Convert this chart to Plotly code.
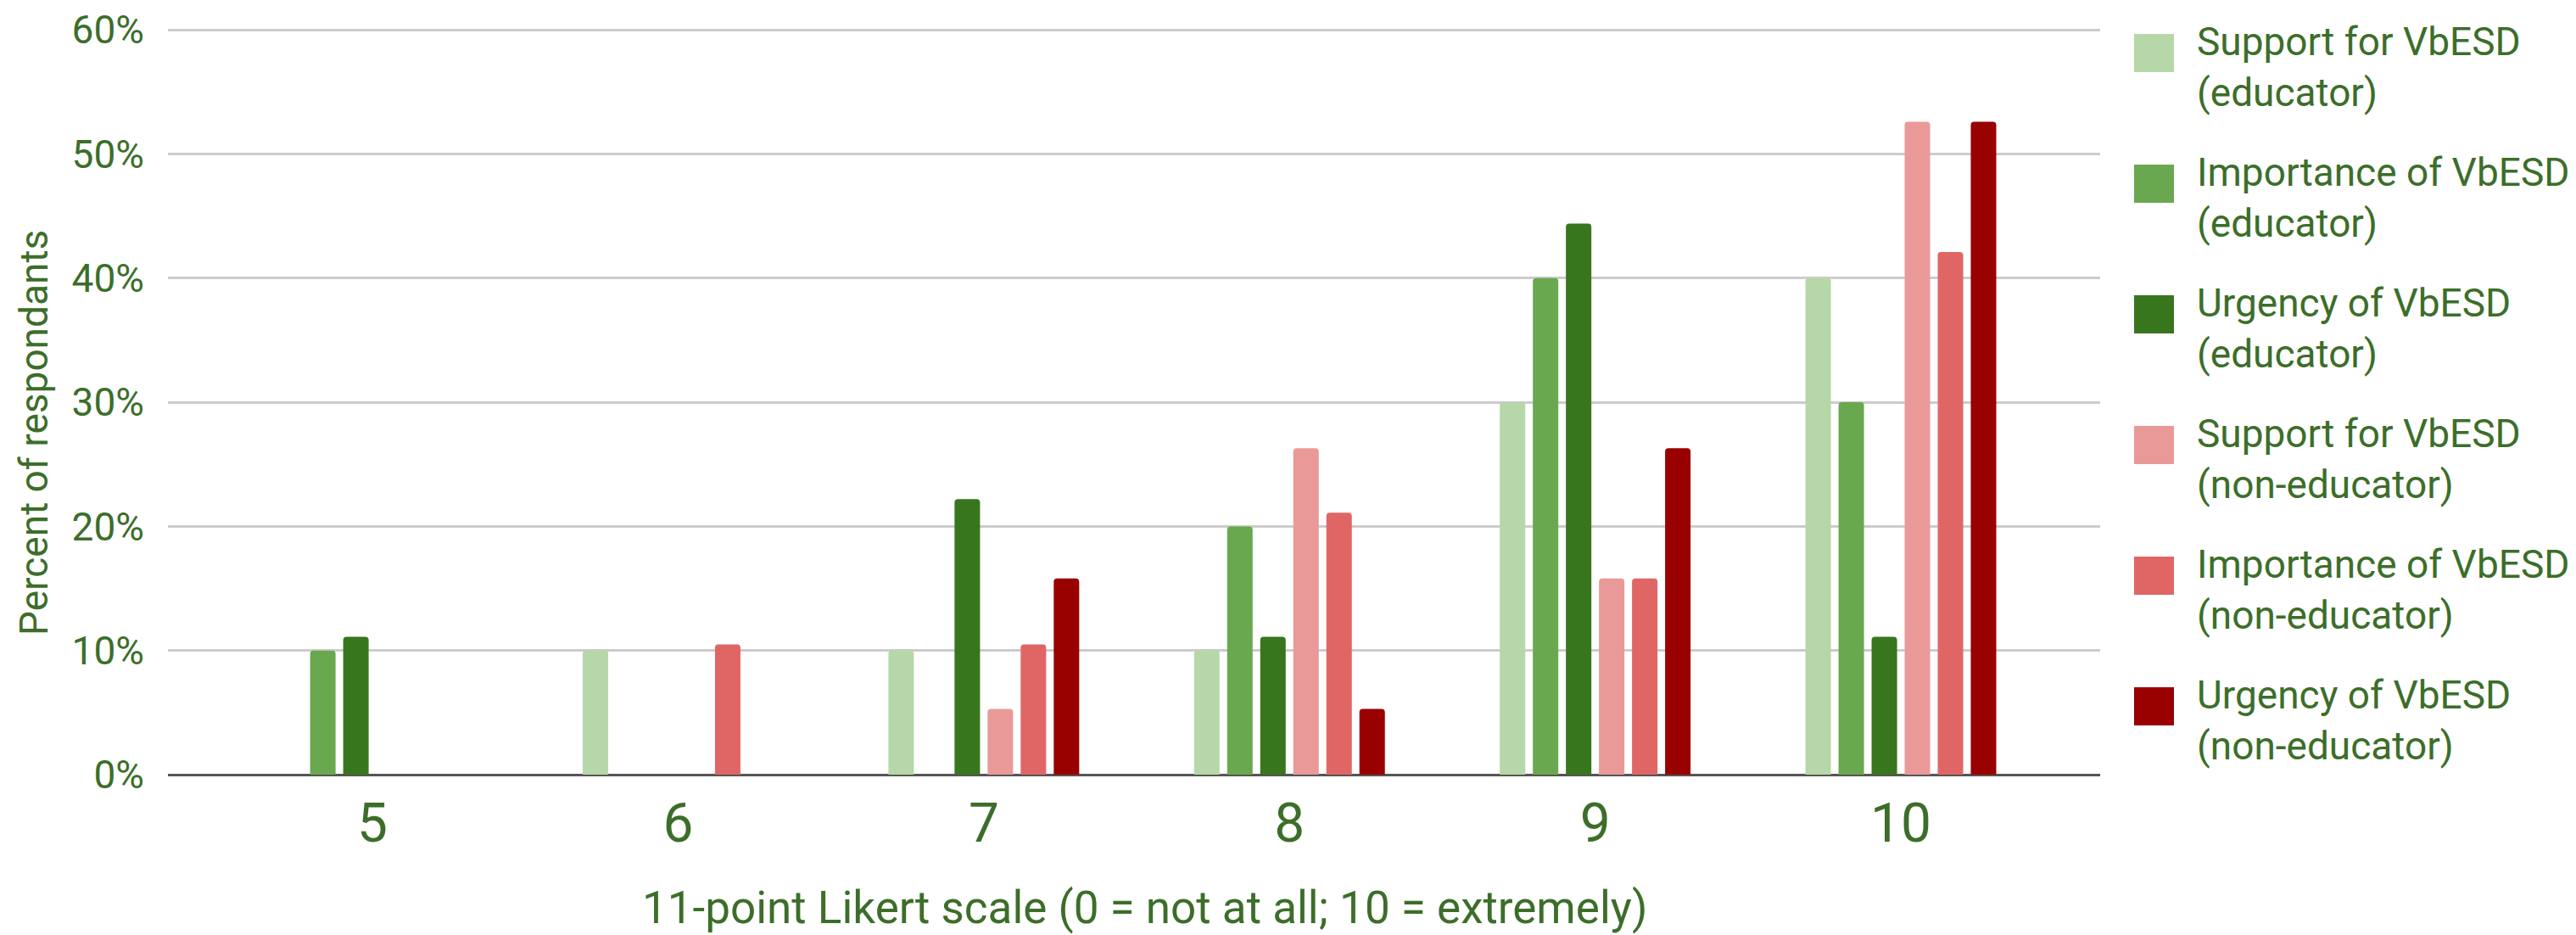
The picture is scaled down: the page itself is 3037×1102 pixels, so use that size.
import plotly.graph_objects as go

categories = ["5", "6", "7", "8", "9", "10"]
series_names = [
    "Support for VbESD<br>(educator)",
    "Importance of VbESD<br>(educator)",
    "Urgency of VbESD<br>(educator)",
    "Support for VbESD<br>(non-educator)",
    "Importance of VbESD<br>(non-educator)",
    "Urgency of VbESD<br>(non-educator)",
]
support_edu = [0, 10, 10, 10, 30, 40]
importance_edu = [10, 0, 0, 20, 40, 30]
urgency_edu = [11.1, 0, 22.2, 11.1, 44.4, 11.1]
support_non = [0, 0, 5.3, 26.3, 15.8, 52.6]
importance_non = [0, 10.5, 10.5, 21.1, 15.8, 42.1]
urgency_non = [0, 0, 15.8, 5.3, 26.3, 52.6]
series_values = [support_edu, importance_edu, urgency_edu,
                 support_non, importance_non, urgency_non]
colors = ["#b6d7a8", "#6aa84f", "#38761d", "#ea9999", "#e06666", "#990000"]
y_ticks = [0, 10, 20, 30, 40, 50, 60]
y_tick_labels = [f"{v}%" for v in y_ticks]
x_title = "11-point Likert scale (0 = not at all; 10 = extremely)"
y_title = "Percent of respondants"

TEXT = "#3c6e2a"
FONT = "Roboto"

W, H = 3037, 1102
L, R, T, B = 190, 569, 25, 197
plot_w = W - L - R
plot_h = H - T - B


def px_x(p):
    return (p - L) / plot_w


def px_y(q):
    return (H - B - q) / plot_h


fig = go.Figure()
for name, vals, col in zip(series_names, series_values, colors):
    fig.add_trace(go.Bar(
        x=categories, y=[v if v else None for v in vals], name=name,
        marker=dict(color=col, line=dict(width=0)),
        showlegend=False,
    ))

# custom legend with large swatches
for i, (name, col) in enumerate(zip(series_names, colors)):
    top = 32 + 154 * i
    fig.add_shape(type="rect", xref="paper", yref="paper",
                  x0=px_x(2508), x1=px_x(2555), y0=px_y(top), y1=px_y(top + 45),
                  fillcolor=col, line=dict(width=0))
    fig.add_annotation(xref="paper", yref="paper", x=px_x(2580), y=px_y(top - 20),
                       xanchor="left", yanchor="top", align="left", showarrow=False,
                       text=name, font=dict(family=FONT, size=46, color=TEXT))

# axis titles
fig.add_annotation(xref="paper", yref="paper", x=px_x(1341), y=px_y(1062),
                   xanchor="center", yanchor="middle", showarrow=False,
                   text=x_title, font=dict(family=FONT, size=53, color=TEXT))
fig.add_annotation(xref="paper", yref="paper", x=px_x(32), y=px_y(502),
                   xanchor="center", yanchor="middle", showarrow=False, textangle=-90,
                   text=y_title, font=dict(family=FONT, size=46, color=TEXT))

fig.update_layout(
    width=W, height=H,
    margin=dict(l=L, r=R, t=T, b=B, autoexpand=False),
    paper_bgcolor="white", plot_bgcolor="white",
    barmode="group", bargap=0.351, bargroupgap=0.23,
    barcornerradius=4,
    font=dict(family=FONT, color=TEXT),
    showlegend=False,
)
fig.update_xaxes(
    type="category", range=[-0.669, 5.652], automargin=False,
    tickfont=dict(size=64, color=TEXT, family=FONT),
    ticklabelstandoff=14,
    showgrid=False, showline=False, zeroline=False,
)
fig.update_yaxes(
    range=[0, 60.15], tickmode="array", tickvals=y_ticks, ticktext=y_tick_labels,
    automargin=False,
    tickfont=dict(size=46, color=TEXT, family=FONT),
    ticklabelstandoff=27,
    showgrid=True, gridcolor="#cccccc", gridwidth=3,
    zeroline=True, zerolinecolor="#555555", zerolinewidth=3,
    showline=False,
)

fig.write_html("out.html")
